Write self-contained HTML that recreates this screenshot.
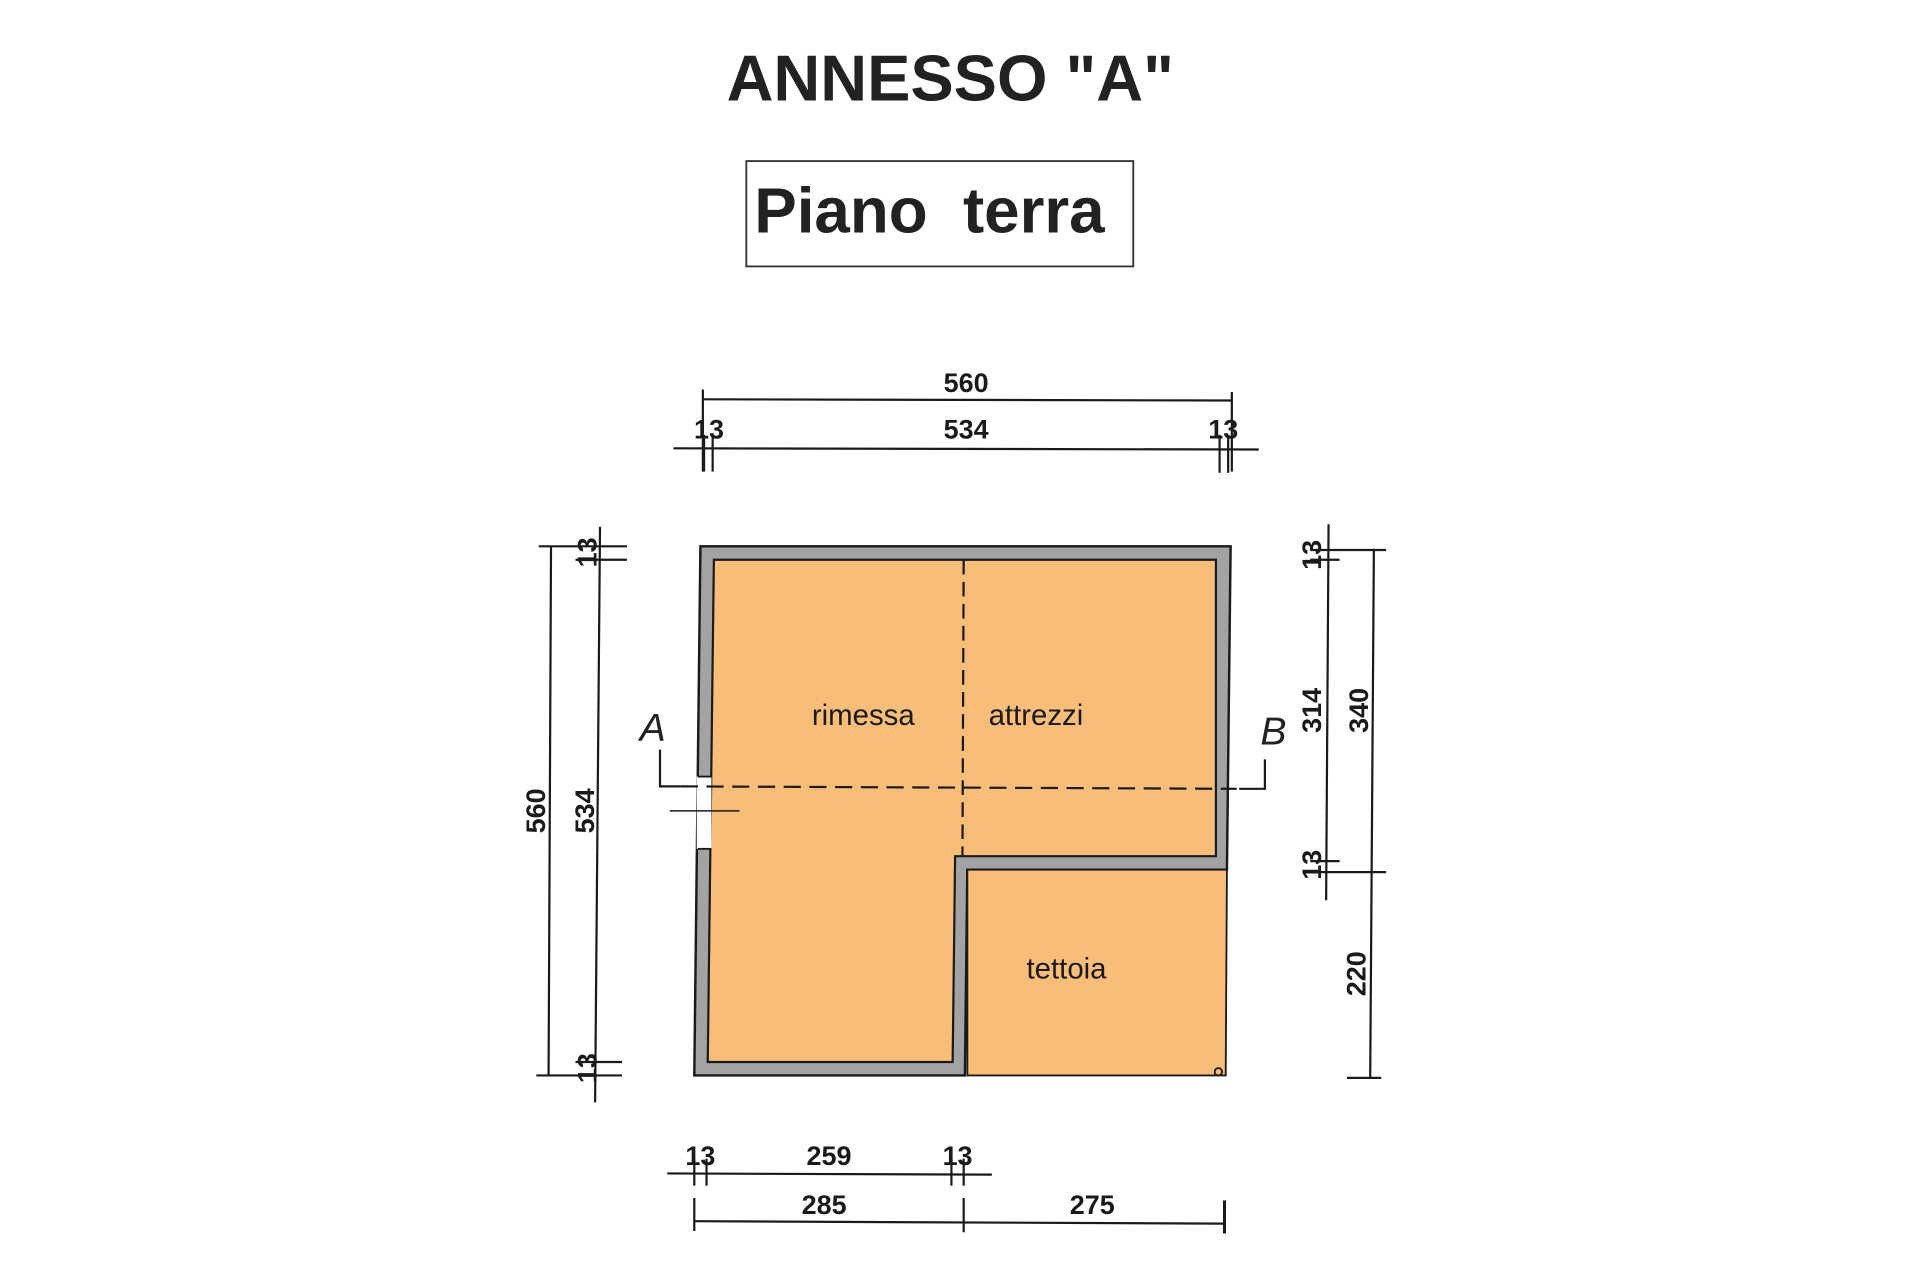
<!DOCTYPE html>
<html><head><meta charset="utf-8"><style>
html,body{margin:0;padding:0;background:#fff;}
svg{display:block;}
text{font-family:"Liberation Sans",Arial,sans-serif;fill:#222;}
.d{font-weight:bold;font-size:22px;fill:#1a1a1a;}
.r{font-size:24px;fill:#1a1a1a;}
</style></head><body>
<svg width="1920" height="1280" viewBox="0 0 1568 1045" preserveAspectRatio="none" xmlns="http://www.w3.org/2000/svg">
<rect width="1568" height="1045" fill="#fff"/>
<text x="776" y="82" text-anchor="middle" font-size="53" font-weight="bold" fill="#3a3a3a">ANNESSO "A"</text>
<rect x="609.5" y="131.5" width="316" height="86" fill="none" stroke="#333" stroke-width="1.5"/>
<text x="616" y="190" font-size="52" font-weight="bold" fill="#333" xml:space="preserve">Piano  terra</text>

<g stroke="#1a1a1a" stroke-width="1.8" fill="none">
<line x1="574" y1="326" x2="1006" y2="327"/>
<line x1="574" y1="318" x2="574" y2="385"/>
<line x1="1006" y1="320" x2="1006" y2="385"/>
<line x1="550" y1="366" x2="1028" y2="367"/>
<line x1="575" y1="355" x2="575" y2="385"/><line x1="582" y1="355" x2="582" y2="385"/>
<line x1="996" y1="355" x2="996" y2="386"/><line x1="1003" y1="355" x2="1003" y2="386"/>
<line x1="450" y1="446" x2="448" y2="878"/>
<line x1="490" y1="430" x2="486" y2="900"/>
<line x1="440" y1="446" x2="512" y2="446"/><line x1="470" y1="457" x2="512" y2="457"/>
<line x1="470" y1="867" x2="508" y2="867"/><line x1="438" y1="878" x2="508" y2="878"/>
<line x1="1085" y1="428" x2="1083" y2="735"/>
<line x1="1122" y1="448" x2="1119" y2="880"/>
<line x1="1070" y1="449" x2="1132" y2="449"/><line x1="1070" y1="457" x2="1094" y2="457"/>
<line x1="1070" y1="703" x2="1094" y2="703"/><line x1="1070" y1="712" x2="1132" y2="712"/>
<line x1="1100" y1="880" x2="1128" y2="880"/>
<line x1="545" y1="958" x2="810" y2="959"/>
<line x1="567" y1="946" x2="567" y2="968"/><line x1="577" y1="946" x2="577" y2="968"/>
<line x1="777" y1="946" x2="777" y2="968"/><line x1="787" y1="946" x2="787" y2="968"/>
<line x1="567" y1="997" x2="1000" y2="999"/>
<line x1="567" y1="978" x2="567" y2="1005"/><line x1="787" y1="978" x2="787" y2="1006"/>
<line x1="1000" y1="980" x2="1000" y2="1007" stroke-width="2.5"/>
</g>

<polygon points="572,446 1005,446 1002,710 790,710 788,878 567,878" fill="#a3a3a3" stroke="#1a1a1a" stroke-width="2"/>
<polygon points="583,457 993,457 993,699 780,699 778,867 578,867" fill="#f8be79" stroke="#1a1a1a" stroke-width="1.8"/>
<polygon points="790,710 1002,710 1001,878 790,878" fill="#f8be79" stroke="#1a1a1a" stroke-width="1.5"/>
<rect x="569" y="634" width="12" height="59" fill="#fff"/>
<line x1="570" y1="634" x2="581" y2="634" stroke="#1a1a1a" stroke-width="1.5"/>
<line x1="570" y1="693" x2="581" y2="693" stroke="#1a1a1a" stroke-width="1.5"/>
<line x1="547" y1="662" x2="604" y2="662" stroke="#1a1a1a" stroke-width="1.2"/>
<circle cx="995" cy="875" r="3" fill="none" stroke="#1a1a1a" stroke-width="1.5"/>

<g stroke="#1a1a1a" stroke-width="1.8" fill="none">
<line x1="787" y1="457" x2="786" y2="699" stroke-dasharray="12,6"/>
<line x1="556" y1="642" x2="1010" y2="644" stroke-dasharray="14,7"/>
<polyline points="539,612 539,642 556,642"/>
<polyline points="1033,620 1033,644 1012,644"/>
</g>

<text x="705" y="592" text-anchor="middle" class="r">rimessa</text>
<text x="846" y="592" text-anchor="middle" class="r">attrezzi</text>
<text x="871" y="799" text-anchor="middle" class="r">tettoia</text>
<text x="533" y="605" text-anchor="middle" font-size="32" font-style="italic" fill="#1a1a1a">A</text>
<text x="1040" y="608" text-anchor="middle" font-size="32" font-style="italic" fill="#1a1a1a">B</text>

<text x="789" y="320" text-anchor="middle" class="d">560</text>
<text x="789" y="358" text-anchor="middle" class="d">534</text>
<text x="579" y="358" text-anchor="middle" class="d">13</text>
<text x="999" y="358" text-anchor="middle" class="d">13</text>
<text x="572" y="951" text-anchor="middle" class="d">13</text>
<text x="677" y="951" text-anchor="middle" class="d">259</text>
<text x="782" y="951" text-anchor="middle" class="d">13</text>
<text x="673" y="991" text-anchor="middle" class="d">285</text>
<text x="892" y="991" text-anchor="middle" class="d">275</text>

<text transform="translate(445,662) rotate(-90)" text-anchor="middle" class="d">560</text>
<text transform="translate(485,662) rotate(-90)" text-anchor="middle" class="d">534</text>
<text transform="translate(487,451) rotate(-90)" text-anchor="middle" class="d">13</text>
<text transform="translate(487,872) rotate(-90)" text-anchor="middle" class="d">13</text>
<text transform="translate(1079,580) rotate(-90)" text-anchor="middle" class="d">314</text>
<text transform="translate(1117,580) rotate(-90)" text-anchor="middle" class="d">340</text>
<text transform="translate(1115,795) rotate(-90)" text-anchor="middle" class="d">220</text>
<text transform="translate(1079,453) rotate(-90)" text-anchor="middle" class="d">13</text>
<text transform="translate(1079,706) rotate(-90)" text-anchor="middle" class="d">13</text>
</svg>
</body></html>
